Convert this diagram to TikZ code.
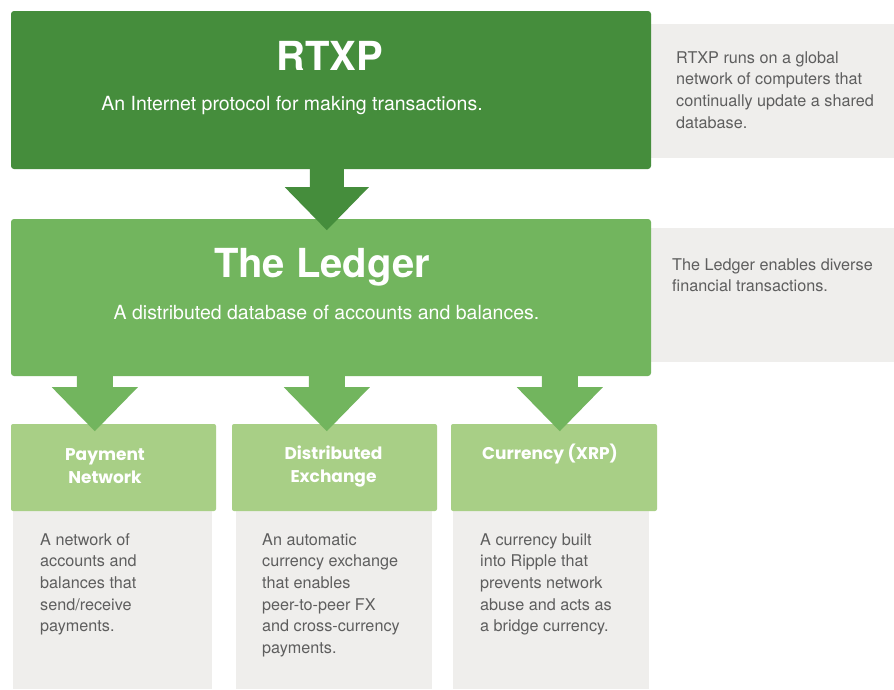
\documentclass[tikz,border=0pt]{standalone}
\usepackage{fontspec}
\setmainfont{TeX Gyre Heros}
\newfontfamily\headfont{Poppins}
\usetikzlibrary{calc}
\definecolor{rtxpgreen}{HTML}{458D3C}
\definecolor{ledgergreen}{HTML}{72B55E}
\definecolor{partgreen}{HTML}{A8CF86}
\definecolor{notegrey}{HTML}{EFEEEC}
\definecolor{notetext}{HTML}{5E5E5E}

\begin{document}
\begin{tikzpicture}[x=1pt, y=-1pt,
	box/.style={inner sep=0pt, minimum width=640pt, minimum height=158pt, rounded corners=3pt},
	note/.style={fill=notegrey, inner sep=0pt, minimum width=243pt, minimum height=134pt},
	part/.style={fill=partgreen, inner sep=0pt, minimum width=205pt, minimum height=87pt, rounded corners=2pt},
	info/.style={fill=notegrey, inner sep=0pt, minimum width=196pt, minimum height=178pt},
	title/.style={text=white, font=\bfseries\fontsize{40}{44}\selectfont, anchor=base, inner sep=0pt},
	subtitle/.style={text=white, font=\fontsize{19.5}{22}\selectfont, anchor=base, inner sep=0pt},
	head/.style={text=white, font=\headfont\bfseries\fontsize{17}{23}\selectfont, align=center, anchor=base, inner sep=0pt},
	body/.style={text=notetext, font=\fontsize{16.2}{21.7}\selectfont, align=left, anchor=base west, inner sep=0pt}]
	\useasboundingbox[fill=white] (0,0) rectangle (894,689);
	% Side notes
	\node[note] (rtxpnote) at (772.5,91) {};
	\node[note] (ledgernote) at (772.5,295) {};
	% Main boxes
	\node[box, fill=rtxpgreen] (rtxp) at (331,90) {};
	\node[box, fill=ledgergreen, minimum height=157pt] (ledger) at (331,297.5) {};
	% Parts of the ledger
	\node[info, minimum width=199pt] (payinfo) at (112.5,600) {};
	\node[info] (dexinfo) at (334,600) {};
	\node[info] (curinfo) at (551,600) {};
	\node[part] (pay) at (113.5,467.5) {};
	\node[part] (dex) at (334.5,467.5) {};
	\node[part, minimum width=206pt] (cur) at (554,467.5) {};
	% Block arrows
	\fill[rtxpgreen] ($(rtxp.south west)+(299,0)$) -- ++(34,0) -- ++(0,18) -- ++(25,0)
		-- ++(-42,43) -- ++(-42,-43) -- ++(25,0) -- cycle;
	\foreach \x in {66,298,531}
		\fill[ledgergreen] ($(ledger.south west)+(\x,0)$) -- ++(36,0) -- ++(0,11) -- ++(25,0)
			-- ++(-43,44) -- ++(-43,-44) -- ++(25,0) -- cycle;
	% Texts (base = last line)
	\node[title] (rtxptitle) at (330,70) {RTXP};
	\node[subtitle] (rtxpsub) at (292,110) {An Internet protocol for making transactions.};
	\node[title] (ledgertitle) at (322,277) {The Ledger};
	\node[subtitle] (ledgersub) at (326.5,319) {A distributed database of accounts and balances.};
	\node[body] (rtxptext) at (676,128.1) {RTXP runs on a global\\network of computers that\\continually update a shared\\database.};
	\node[body] (ledgertext) at (672,291.7) {The Ledger enables diverse\\financial transactions.};
	\node[head] (payhead) at (105,483) {Payment\\Network};
	\node[head] (dexhead) at (333.5,482) {Distributed\\Exchange};
	\node[head] (curhead) at (550,459) {Currency (XRP)};
	\node[body] (paytext) at (40,631.8) {A network of\\accounts and\\balances that\\send/receive\\payments.};
	\node[body] (dextext) at (262,653.5) {An automatic\\currency exchange\\that enables\\peer-to-peer FX\\and cross-currency\\payments.};
	\node[body] (curtext) at (480,631.8) {A currency built\\into Ripple that\\prevents network\\abuse and acts as\\a bridge currency.};
\end{tikzpicture}
\end{document}
